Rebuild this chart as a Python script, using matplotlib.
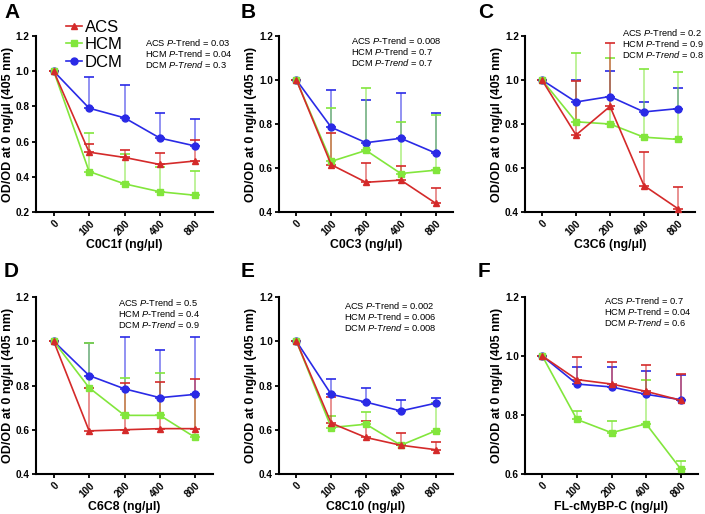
import matplotlib
matplotlib.use('Agg')
import matplotlib.pyplot as plt
import numpy as np

plt.rcParams['font.family'] = ['Liberation Sans', 'DejaVu Sans']
plt.rcParams['mathtext.fontset'] = 'custom'
plt.rcParams['mathtext.rm'] = 'Liberation Sans'
plt.rcParams['mathtext.it'] = 'Liberation Sans:italic'

doses = ['0', '100', '200', '400', '800']
groups = ['ACS', 'HCM', 'DCM']

# Panel A: C0C1f
a_acs = [1.0, 0.54, 0.51, 0.47, 0.49]
a_acs_err = [0, 0.045, 0.045, 0.065, 0.12]
a_hcm = [1.0, 0.43, 0.36, 0.315, 0.295]
a_hcm_err = [0, 0.22, 0.17, 0.14, 0.14]
a_dcm = [1.0, 0.79, 0.735, 0.62, 0.575]
a_dcm_err = [0, 0.175, 0.185, 0.145, 0.155]
a_p = ['0.03', '0.04', '0.3']

# Panel B: C0C3
b_acs = [1.0, 0.615, 0.535, 0.545, 0.44]
b_acs_err = [0, 0.145, 0.09, 0.065, 0.07]
b_hcm = [1.0, 0.63, 0.68, 0.575, 0.59]
b_hcm_err = [0, 0.245, 0.285, 0.235, 0.25]
b_dcm = [1.0, 0.785, 0.715, 0.735, 0.668]
b_dcm_err = [0, 0.17, 0.195, 0.205, 0.182]
b_p = ['0.008', '0.7', '0.7']

# Panel C: C3C6
c_acs = [1.0, 0.75, 0.88, 0.52, 0.415]
c_acs_err = [0, 0.245, 0.29, 0.155, 0.10]
c_hcm = [1.0, 0.81, 0.80, 0.74, 0.73]
c_hcm_err = [0, 0.315, 0.30, 0.31, 0.305]
c_dcm = [1.0, 0.90, 0.925, 0.855, 0.87]
c_dcm_err = [0, 0.10, 0.115, 0.045, 0.095]
c_p = ['0.2', '0.9', '0.8']

# Panel D: C6C8
d_acs = [1.0, 0.595, 0.60, 0.605, 0.605]
d_acs_err = [0, 0.195, 0.21, 0.21, 0.225]
d_hcm = [1.0, 0.79, 0.665, 0.665, 0.565]
d_hcm_err = [0, 0.20, 0.17, 0.19, 0.19]
d_dcm = [1.0, 0.845, 0.785, 0.745, 0.76]
d_dcm_err = [0, 0.145, 0.235, 0.215, 0.26]
d_p = ['0.5', '0.4', '0.9']

# Panel E: C8C10
e_acs = [1.0, 0.63, 0.565, 0.53, 0.51]
e_acs_err = [0, 0.12, 0.075, 0.055, 0.035]
e_hcm = [1.0, 0.61, 0.625, 0.53, 0.595]
e_hcm_err = [0, 0.05, 0.055, 0.005, 0.125]
e_dcm = [1.0, 0.76, 0.725, 0.685, 0.72]
e_dcm_err = [0, 0.07, 0.065, 0.05, 0.025]
e_p = ['0.002', '0.006', '0.008']

# Panel F: FL-cMyBP-C
f_acs = [1.0, 0.92, 0.905, 0.88, 0.85]
f_acs_err = [0, 0.078, 0.075, 0.09, 0.09]
f_hcm = [1.0, 0.785, 0.74, 0.77, 0.617]
f_hcm_err = [0, 0.03, 0.04, 0.15, 0.028]
f_dcm = [1.0, 0.905, 0.895, 0.87, 0.852]
f_dcm_err = [0, 0.057, 0.067, 0.078, 0.085]
f_p = ['0.7', '0.04', '0.6']

colors = {'ACS': '#d42a2a', 'HCM': '#82e63c', 'DCM': '#2a2ae6'}
markers = {'ACS': '^', 'HCM': 's', 'DCM': 'o'}

W, H = 705, 514
fig = plt.figure(figsize=(W / 100, H / 100), dpi=100)

def px_axes(left, right, top, bottom):
    return fig.add_axes([left / W, 1 - bottom / H, (right - left) / W, (bottom - top) / H])

panels = [
    dict(letter='A', xl='C0C1f (ng/\u03bcl)', box=(36, 213, 36, 212), ylim=(0.2, 1.2),
         data=(a_acs, a_acs_err, a_hcm, a_hcm_err, a_dcm, a_dcm_err), p=a_p, pt=(145, 41.5), lp=(4, 3)),
    dict(letter='B', xl='C0C3 (ng/\u03bcl)', box=(279, 453, 36, 212), ylim=(0.4, 1.2),
         data=(b_acs, b_acs_err, b_hcm, b_hcm_err, b_dcm, b_dcm_err), p=b_p, pt=(351, 40), lp=(241, 3)),
    dict(letter='C', xl='C3C6 (ng/\u03bcl)', box=(525, 695, 36, 212), ylim=(0.4, 1.2),
         data=(c_acs, c_acs_err, c_hcm, c_hcm_err, c_dcm, c_dcm_err), p=c_p, pt=(622, 31.5), lp=(478, 3)),
    dict(letter='D', xl='C6C8 (ng/\u03bcl)', box=(36, 213, 297, 474), ylim=(0.4, 1.2),
         data=(d_acs, d_acs_err, d_hcm, d_hcm_err, d_dcm, d_dcm_err), p=d_p, pt=(118, 301.5), lp=(4, 262)),
    dict(letter='E', xl='C8C10 (ng/\u03bcl)', box=(279, 453, 297, 474), ylim=(0.4, 1.2),
         data=(e_acs, e_acs_err, e_hcm, e_hcm_err, e_dcm, e_dcm_err), p=e_p, pt=(344, 304.5), lp=(241, 262)),
    dict(letter='F', xl='FL-cMyBP-C (ng/\u03bcl)', box=(525, 698, 297, 474), ylim=(0.6, 1.2),
         data=(f_acs, f_acs_err, f_hcm, f_hcm_err, f_dcm, f_dcm_err), p=f_p, pt=(604, 300), lp=(478, 262)),
]

x = np.arange(len(doses))
for i, P in enumerate(panels):
    ax = px_axes(*P['box'])
    acs, acs_e, hcm, hcm_e, dcm, dcm_e = P['data']
    series = {'ACS': (acs, acs_e), 'HCM': (hcm, hcm_e), 'DCM': (dcm, dcm_e)}
    handles = {}
    for g in ['DCM', 'HCM', 'ACS']:
        m, e = series[g]
        e = np.array(e)
        line, caps, bars = ax.errorbar(x, m, yerr=[np.zeros_like(e), e], color=colors[g],
                                       marker=markers[g], markersize=5, lw=1.2, capsize=3.5,
                                       capthick=1.2, elinewidth=1.2, clip_on=False, zorder=3)
        for b in bars:
            b.set_alpha(0.6)
        handles[g] = line
    ax.set_xlim(-0.5, 4.5)
    ax.set_ylim(*P['ylim'])
    yt = np.arange(P['ylim'][0], 1.2001, 0.2)
    ax.set_yticks(yt)
    ax.set_yticklabels([f'{v:.1f}' for v in yt])
    ax.set_xticks(x)
    ax.set_xticklabels(doses, rotation=45, ha='right', va='top', rotation_mode='anchor')
    for s in ['top', 'right']:
        ax.spines[s].set_visible(False)
    for s in ['left', 'bottom']:
        ax.spines[s].set_linewidth(1.5)
    ax.tick_params(width=1.3, length=3, labelsize=7.2, pad=1.5)
    for lab in ax.get_xticklabels() + ax.get_yticklabels():
        lab.set_fontweight('bold')
    ax.set_xlabel(P['xl'], fontsize=8.8, fontweight='bold', labelpad=1)
    ax.set_ylabel('OD/OD at 0 ng/\u03bcl (405 nm)', fontsize=9, fontweight='bold', labelpad=1)
    p = P['p']
    lines = [f'ACS $\\it{{P}}$-Trend = {p[0]}',
             f'HCM $\\it{{P}}$-Trend = {p[1]}',
             f'DCM $\\it{{P}}$-$\\it{{Trend}}$ = {p[2]}']
    for k, t in enumerate(lines):
        fig.text(P['pt'][0] / W, 1 - (P['pt'][1] + 10.8 * k) / H, t, fontsize=6.7,
                 va='center_baseline', ha='left')
    fig.text(P['lp'][0] / W, 1 - P['lp'][1] / H, P['letter'], fontsize=15,
             fontweight='bold', va='top', ha='left')
    if i == 0:
        ax.legend([handles[g] for g in groups], groups, loc='upper left',
                  bbox_to_anchor=(0.12, 1.14), frameon=False, fontsize=12,
                  handlelength=1.0, handletextpad=0.15, labelspacing=0.15, borderpad=0)

fig.savefig('out.png', dpi=100)
